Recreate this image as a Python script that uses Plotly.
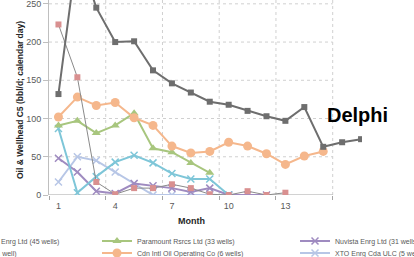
import plotly.graph_objects as go

months = list(range(1, 18))

delphi = [132, 320, 245, 200, 201, 163, 146, 134, 122, 118, 110, 103, 97, 115, 63, 69, 73]
pink = [223, 154, 17, 1, 9, 9, 14, 9, 1, 0, 5, 0, 3]
green = [91, 97, 81, 91, 107, 61, 56, 42, 29]
orange = [102, 128, 117, 121, 101, 91, 64, 55, 57, 69, 64, 54, 40, 51, 57]
teal = [87, 3, 24, 43, 52, 42, 28, 21, 21, 0]
xto = [17, 50, 45, 30, 15, 0, 0, 0, 0, 0]
purple = [48, 30, 5, 2, 15, 12, 9, 4, 9, 0, 0, 0]

names = {
    "pink": "Enrg Ltd (45 wells)",
    "teal": "(1 well)",
    "green": "Paramount Rsrcs Ltd (33 wells)",
    "orange": "Cdn Intl Oil Operating Co (6 wells)",
    "purple": "Nuvista Enrg Ltd (31 wells)",
    "xto": "XTO Enrg Cda ULC (5 wells)",
}

xtick_vals = [1, 4, 7, 10, 13]
ytick_vals = [0, 50, 100, 150, 200, 250]

W, H = 414, 257
L, R, T, B = 49, 52, 0, 62
pw = W - L - R
ph = H - T - B

fig = go.Figure()

def add(y, name, color, lcolor, symbol, size, lw, legend, showlegend=True):
    fig.add_trace(go.Scatter(
        x=months[:len(y)], y=y, name=name, mode="lines+markers",
        line=dict(color=lcolor, width=lw),
        marker=dict(color=color, symbol=symbol, size=size,
                    line=dict(color=color, width=1.5) if "x" in symbol else dict(width=0)),
        legend=legend, showlegend=showlegend,
    ))

add(xto, names["xto"], "#b7c6e6", "#b7c6e6", "x-thin", 7, 2, "legend6")
add(purple, names["purple"], "#9f8bc0", "#9f8bc0", "x-thin", 7, 2, "legend3")
add(teal, names["teal"], "#7ec6d8", "#7ec6d8", "x-thin", 7, 2, "legend4")
add(green, names["green"], "#a8c67e", "#a8c67e", "triangle-up", 8, 2, "legend2")
add(orange, names["orange"], "#f5b78c", "#f5b78c", "circle", 9, 2, "legend5")
add(pink, names["pink"], "#d99090", "#8a8a8a", "square", 6, 1, "legend")
add(delphi, "Delphi", "#6e6e6e", "#6e6e6e", "square", 6, 2, "legend", showlegend=False)

grid = dict(color="#d0d0d0", width=1, dash="dot")
shapes = []
for v in ytick_vals[1:]:
    shapes.append(dict(type="line", xref="x", yref="y", x0=0.5, x1=15.5, y0=v, y1=v, line=grid, layer="below"))
for gx in [3.5, 6.5, 9.5, 12.5, 15.5]:
    shapes.append(dict(type="line", xref="x", yref="paper", x0=gx, x1=gx, y0=0, y1=1, line=grid, layer="below"))
shapes.append(dict(type="line", xref="x", yref="y", x0=0.5, x1=15.5, y0=0, y1=0,
                   line=dict(color="#a6a6a6", width=1.2), layer="below"))

def px2paper_x(px):
    return (px - L) / pw

def px2paper_y(py):
    return (H - B - py) / ph

lfont = dict(family="Liberation Sans, Arial, sans-serif", size=7, color="#595959")
legend_pos = {
    "legend": (1 - 40, 241),
    "legend4": (-6 - 40, 253),
    "legend2": (137 - 40, 241),
    "legend5": (137 - 40, 253),
    "legend3": (335 - 40, 241),
    "legend6": (335 - 40, 253),
}
leg_layout = {}
for k, (lx, ly) in legend_pos.items():
    leg_layout[k] = dict(x=px2paper_x(lx), y=px2paper_y(ly), xanchor="left", yanchor="middle",
                         font=lfont, bgcolor="rgba(0,0,0,0)", borderwidth=0,
                         tracegroupgap=0, itemwidth=30)

fig.update_layout(
    width=W, height=H,
    margin=dict(l=L, r=R, t=T, b=B, pad=0, autoexpand=False),
    paper_bgcolor="white", plot_bgcolor="white",
    font=dict(family="Liberation Sans, Arial, sans-serif", color="#595959"),
    shapes=shapes,
    xaxis=dict(range=[0.5, 17.05], tickmode="array", tickvals=xtick_vals,
               ticktext=[str(v) for v in xtick_vals], showgrid=False, zeroline=False,
               showline=False, ticks="", tickfont=dict(size=9, color="#595959"),
               ticklabelstandoff=4,
               minor=dict(tick0=0.5, dtick=3, ticks="outside", ticklen=4, tickcolor="#a6a6a6",
                          showgrid=False)),
    yaxis=dict(range=[0, 255], tickmode="array", tickvals=ytick_vals, showgrid=False,
               zeroline=False, showline=True, linecolor="#bfbfbf", linewidth=1,
               ticks="outside", ticklen=5, tickcolor="#bfbfbf",
               ticklabeloverflow="allow",
               tickfont=dict(size=9, color="#595959")),
    annotations=[
        dict(text="Oil & Wellhead C5 (bbl/d; calendar day)", xref="paper", yref="paper",
             x=px2paper_x(20), y=px2paper_y(100), xanchor="center", yanchor="middle",
             textangle=-90, showarrow=False,
             font=dict(size=8.5, color="#262626", weight="bold")),
        dict(text="Month", xref="paper", yref="paper", x=px2paper_x(191), y=px2paper_y(221),
             xanchor="center", yanchor="middle", showarrow=False,
             font=dict(size=9, color="#262626", weight="bold")),
        dict(text="Delphi", xref="x", yref="y", x=15.1, y=105, xanchor="left", yanchor="middle",
             showarrow=False, font=dict(size=20, color="#000000", weight="bold",
                                        family="Liberation Sans, Arial, sans-serif")),
    ],
    **leg_layout,
)

fig.write_html("out.html", config={"displayModeBar": False},
               post_script="document.body.style.margin='0';")
